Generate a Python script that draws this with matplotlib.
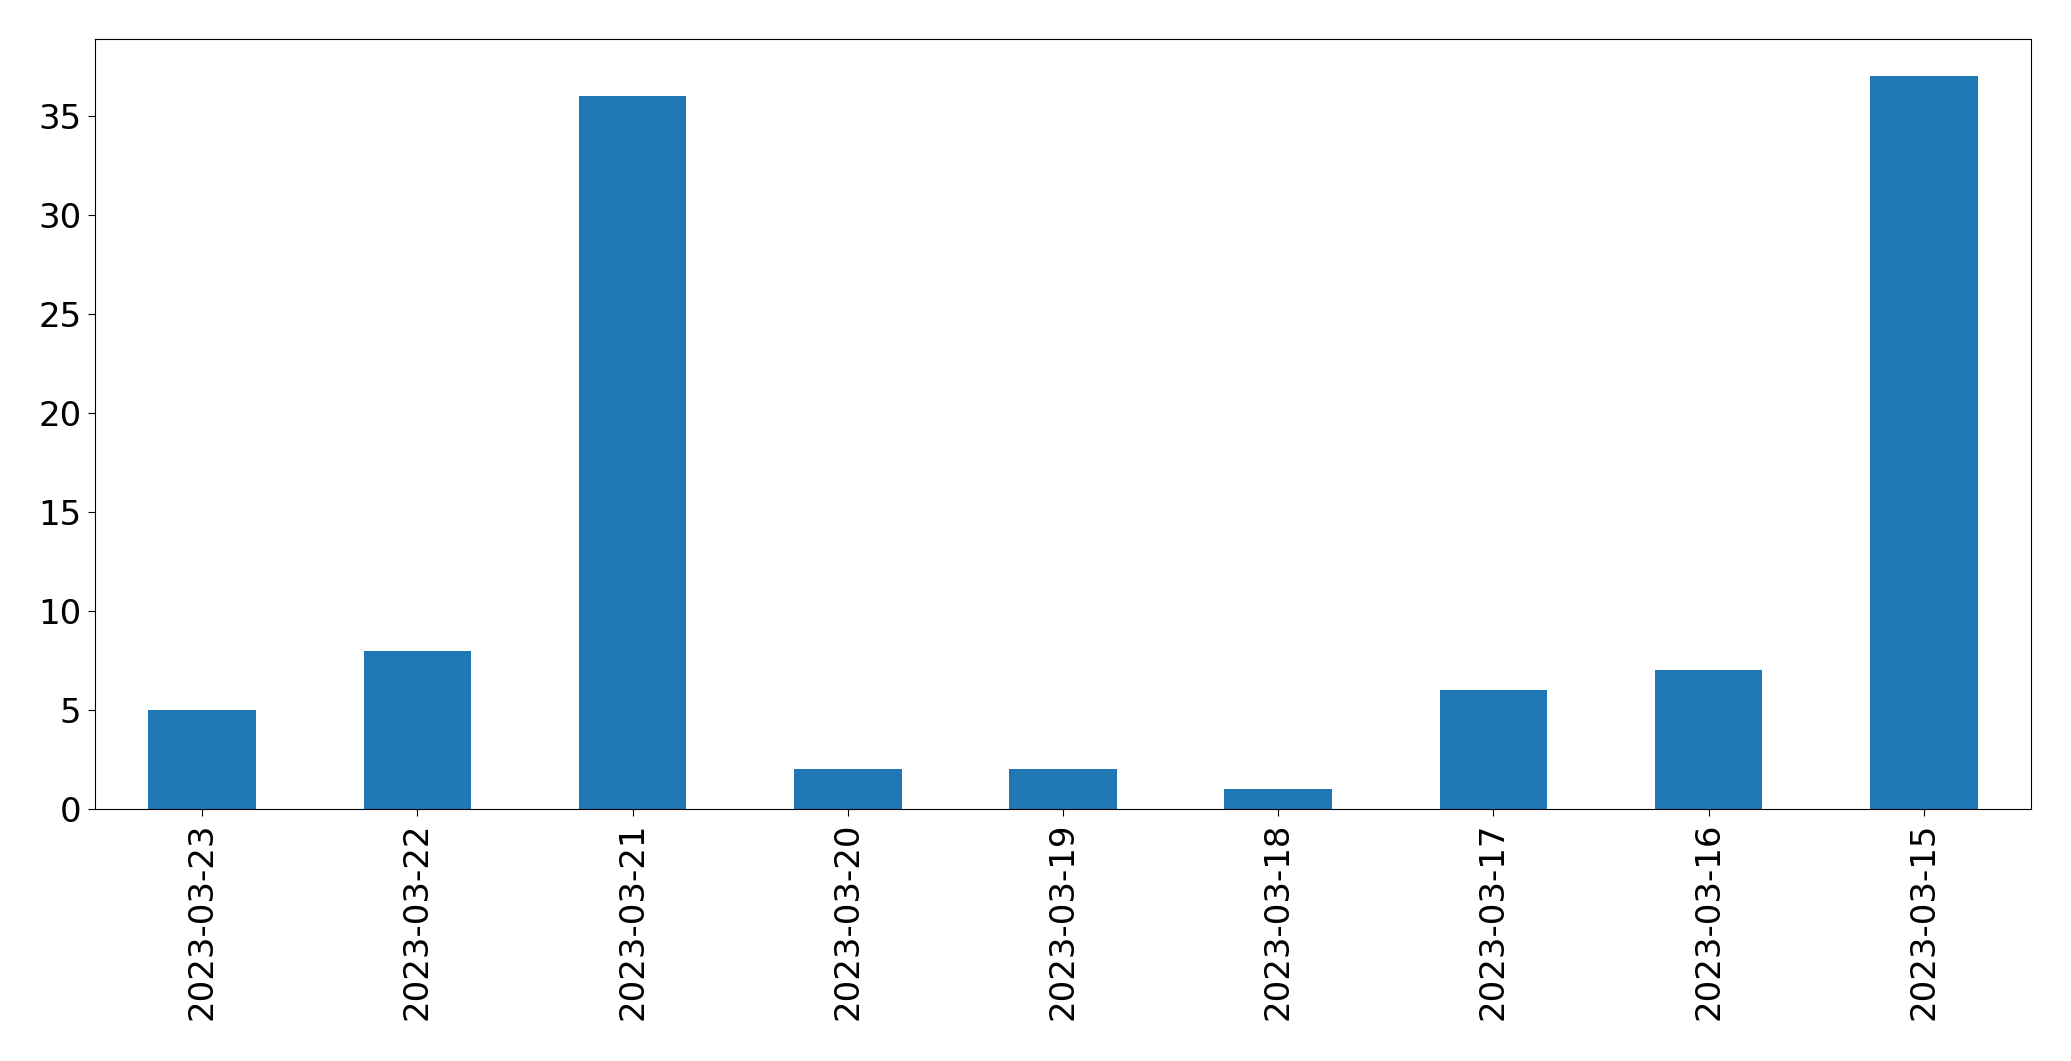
import matplotlib
matplotlib.use("Agg")
import matplotlib.pyplot as plt

dates = ["2023-03-23", "2023-03-22", "2023-03-21", "2023-03-20", "2023-03-19",
         "2023-03-18", "2023-03-17", "2023-03-16", "2023-03-15"]
counts = [5, 8, 36, 2, 2, 1, 6, 7, 37]

fig = plt.figure(figsize=(20.71, 10.61), dpi=100)
ax = fig.add_axes([94.7 / 2071, 1 - 809 / 1061, (2031.3 - 94.7) / 2071, (809 - 39.3) / 1061])
x = list(range(len(dates)))
ax.bar(x, counts, width=0.5, color="#1f77b4")
ax.set_xlim(-0.5, len(dates) - 0.5)
ax.set_ylim(0, max(counts) * 1.05)
ax.set_xticks(x)
ax.set_xticklabels(dates, rotation=90)
ax.tick_params(axis="both", labelsize=24.5, length=5.3, pad=4.2)
fig.savefig("out.png", dpi=100)
